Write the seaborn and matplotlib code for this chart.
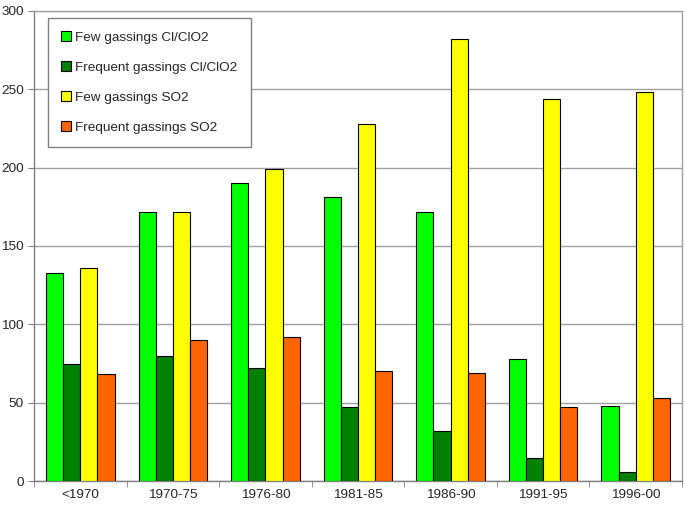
import pandas as pd
import seaborn as sns
import matplotlib.pyplot as plt
import numpy as np

# values
periods = ["<1970", "1970-75", "1976-80", "1981-85", "1986-90", "1991-95", "1996-00"]
few_cl = [133, 172, 190, 181, 172, 78, 48]
freq_cl = [75, 80, 72, 47, 32, 15, 6]
few_so2 = [136, 172, 199, 228, 282, 244, 248]
freq_so2 = [68, 90, 92, 70, 69, 47, 53]
series = ["Few gassings Cl/ClO2", "Frequent gassings Cl/ClO2", "Few gassings SO2", "Frequent gassings SO2"]
colors = ["#00ff00", "#008000", "#ffff00", "#ff6600"]

rows = []
for name, vals in zip(series, [few_cl, freq_cl, few_so2, freq_so2]):
    for p, v in zip(periods, vals):
        rows.append({"period": p, "series": name, "count": v})
df = pd.DataFrame(rows)

sns.set_style("white")
plt.rcParams['font.family'] = ['Liberation Sans', 'DejaVu Sans']

fig = plt.figure(figsize=(6.85, 5.05), dpi=100)
ax = fig.add_axes([34/685, 24/505, 648/685, 470/505])

sns.barplot(data=df, x="period", y="count", hue="series", order=periods,
            hue_order=series, palette=colors, saturation=1, width=0.74,
            edgecolor="black", linewidth=0.8, errorbar=None, ax=ax, zorder=3)

ax.set_ylim(0, 300)
ax.set_xlim(-0.5, len(periods) - 0.5)
ax.set_yticks(np.arange(0, 301, 50))
ax.yaxis.grid(True, color="#a0a0a0", linewidth=1, zorder=0)
ax.set_axisbelow(True)
ax.set_xlabel("")
ax.set_ylabel("")

# ticks between the categories like the original
ax.set_xticks(np.arange(-0.5, len(periods)), minor=True)
ax.tick_params(axis="x", which="major", length=0, labelsize=9.7, pad=6)
ax.tick_params(axis="x", which="minor", length=4, color="#808080", direction="out", bottom=True)
ax.tick_params(axis="y", length=4, color="#808080", direction="out", left=True, labelsize=9.7)

for s in ax.spines.values():
    s.set_color("#a0a0a0")
    s.set_linewidth(1)
ax.spines["left"].set_color("#808080")
ax.spines["bottom"].set_color("#808080")

leg = ax.legend(loc="upper left", bbox_to_anchor=(14/648, 1 - 7/470), fontsize=9.7,
                handlelength=0.7, handleheight=0.7, handletextpad=0.3,
                labelspacing=1.3, borderpad=1.0, borderaxespad=0,
                fancybox=False, framealpha=1, edgecolor="#808080")
leg.get_frame().set_linewidth(1)
for h in leg.legend_handles:
    h.set_edgecolor("black")
    h.set_linewidth(0.8)

fig.savefig("out.png", dpi=100)
